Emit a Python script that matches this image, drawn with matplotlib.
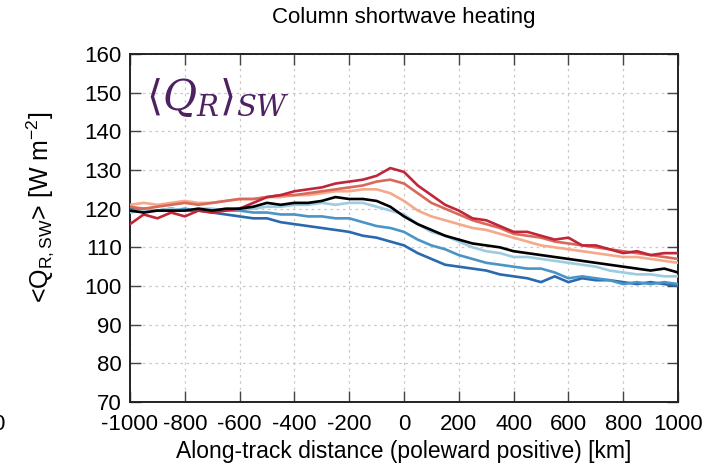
import matplotlib
matplotlib.use('Agg')
import matplotlib.pyplot as plt
import numpy as np

plt.rcParams['font.family'] = ['Liberation Sans', 'DejaVu Sans']
plt.rcParams['mathtext.fontset'] = 'custom'
plt.rcParams['mathtext.rm'] = 'Liberation Sans'
plt.rcParams['mathtext.it'] = 'Liberation Sans:italic'
plt.rcParams['axes.unicode_minus'] = False

# along-track distance, km
distance = np.arange(-1000, 1001, 50)

# column shortwave heating, W m-2, one curve per composite bin
q_bin1 = [116, 118.5, 117.5, 119, 118, 119.5, 119, 119.5, 120, 121.5,
          123, 123.5, 124.5, 125, 125.5, 126.5, 127, 127.5, 128.5, 130.5,
          129.5, 126, 123.5, 121, 119.5, 117.5, 117, 115.5, 114, 114,
          113, 112, 112.5, 110.5, 110.5, 109.5, 108.5, 109, 108, 108.5, 108.5]
q_bin2 = [120.5, 120, 120.5, 121, 121.5, 121, 121.5, 122, 122.5, 122.5,
          123, 123.5, 123.5, 124, 124.5, 125, 125.5, 126, 127, 127.5,
          126.5, 124, 121.5, 120, 118.5, 117, 116, 115, 113.5, 113,
          112.5, 111.5, 111, 110.5, 110, 109.5, 109, 108.5, 108, 107.5, 107]
q_bin3 = [121, 121.5, 121, 121.5, 122, 121.5, 121.5, 122, 122.5, 122.5,
          123, 123, 123.5, 123.5, 124, 124.5, 124.5, 125, 125, 124,
          122, 119.5, 118, 117, 116, 115, 114.5, 113.5, 112.5, 111.5,
          110.5, 110, 109.5, 109, 108.5, 108, 107.5, 107.5, 107, 106.5, 106]
q_all = [119.5, 119, 119.5, 119.5, 119.5, 120, 119.5, 120, 120, 120.5,
         121.5, 121, 121.5, 121.5, 122, 123, 122.5, 122.5, 122, 120.5,
         118, 116, 114.5, 113, 112, 111, 110.5, 110, 109, 108.5,
         108, 107.5, 107, 106.5, 106, 105.5, 105, 104.5, 104, 104.5, 103.5]
q_bin5 = [119, 119.5, 119.5, 120, 119.5, 120, 120, 119.5, 120, 120,
          120.5, 120.5, 121, 121, 121.5, 121, 121.5, 121.5, 120.5, 119.5,
          118.5, 116, 114, 113, 111.5, 110, 109, 108.5, 107.5, 107.5,
          107, 106.5, 106, 105.5, 105, 104, 103.5, 103, 103, 102.5, 102.5]
q_bin6 = [119.5, 120, 119.5, 119.5, 120, 119.5, 119.5, 119.5, 119.5, 119,
          119, 118.5, 118.5, 118, 118, 117.5, 117.5, 116.5, 115.5, 115,
          114, 112, 110.5, 109.5, 108, 107, 106, 105.5, 105, 104.5,
          104.5, 103.5, 102, 102.5, 102, 101.5, 100.5, 101, 100.5, 101, 100.5]
q_bin7 = [120, 119.5, 119.5, 120, 119.5, 119.5, 119, 118.5, 118, 117.5,
          117.5, 116.5, 116, 115.5, 115, 114.5, 114, 113, 112.5, 111.5,
          110.5, 108.5, 107, 105.5, 105, 104.5, 104, 103, 102.5, 102,
          101, 102.5, 101, 102, 101.5, 101.5, 101, 100.5, 101, 100.5, 100]

curves = [q_bin7, q_bin6, q_bin5, q_bin3, q_bin2, q_bin1, q_all]
colors = ['#2a69ad', '#4a94c6', '#9ccbe2', '#f4a98b', '#d9695a', '#c0263a', 'black']

x_ticks = list(range(-1000, 1001, 200))
y_ticks = list(range(70, 161, 10))

fig = plt.figure(figsize=(7.17, 4.74), dpi=100)
ax = fig.add_axes([130 / 717, 1 - 402 / 474, 548 / 717, 348 / 474])

for q, c in zip(curves, colors):
    ax.plot(distance, q, color=c, lw=1.9, zorder=3)

ax.set_xlim(-1000, 1000)
ax.set_ylim(70, 160)
ax.set_xticks(x_ticks)
ax.set_yticks(y_ticks)
ax.grid(True, color='#c8c8c8', linestyle=(0, (2, 3)), lw=0.9)
ax.tick_params(direction='in', length=8, width=1, color='#444444',
               top=True, right=True, labelsize=16, pad=6)
ax.tick_params(axis='x', pad=9)
for s in ax.spines.values():
    s.set_linewidth(1.4)
    s.set_color('#222222')

ax.set_xlabel('Along-track distance (poleward positive) [km]', fontsize=16.5, labelpad=3)
ax.set_ylabel(r'<Q$_{\mathrm{R,SW}}$> [W m$^{\mathrm{-2}}$]', fontsize=18)
ax.yaxis.set_label_coords(-0.135, 0.56)
ax.set_title('Column shortwave heating', fontsize=16, pad=22)

ax.text(0.03, 0.935, r'$\langle Q_R\rangle_{SW}$', transform=ax.transAxes,
        fontsize=30, color='#4e2161', va='top', ha='left',
        math_fontfamily='dejavuserif')

# edge of the neighbouring panel's tick label
fig.text(0.006, 1 - 425 / 474, '0', fontsize=16, ha='right', va='center')

fig.savefig('out.png', dpi=100)
